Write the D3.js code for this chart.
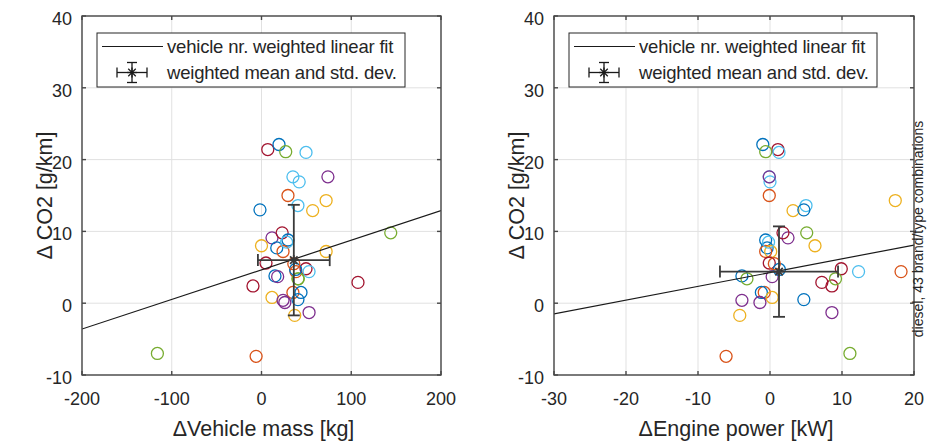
<!DOCTYPE html>
<html><head><meta charset="utf-8">
<script src="https://cdn.jsdelivr.net/npm/d3@7"></script>
<style>
html,body{margin:0;padding:0;background:#fff;}
svg{display:block;}
text{font-family:"Liberation Sans",Arial,sans-serif;fill:#262626;}
</style></head>
<body>
<svg id="chart" width="932" height="442"></svg>
<script>
// ---- data (43 diesel brand/type combinations) ----
const colorIdx = [6,0,4,5,5,5,3,1,2,5,2,0,3,6,0,2,0,1,2,6,1,6,5,0,3,4,6,6,1,0,0,2,3,3,2,3,1,4,4,4,0,5,1];
const co2      = [21.4,22.1,21.1,21.0,17.6,16.9,17.6,15.0,14.3,13.6,12.9,13.0,9.1,9.8,8.8,8.0,7.7,7.2,7.2,5.6,4.4,4.8,4.4,3.8,3.7,3.4,2.4,2.9,1.5,1.5,0.5,0.8,0.4,0.1,-1.7,-1.3,-7.4,9.8,-7.0,3.4,4.7,8.5,5.5];
const mass     = [7,19.5,27,49.6,35,42,74,29.5,72,40.6,57,-1.7,11.7,23,29.5,0,17,24,72,5,38.4,49.6,53,15,18,40.6,-9.5,107.5,35,44,40.6,11.7,24,26,37,53,-6,144,-116,41,38,28,36];
const power    = [1.1,-1.0,-0.6,1.25,-0.1,0.0,-0.1,-0.1,17.4,5.0,3.2,4.7,2.5,1.8,-0.6,6.25,-0.4,-0.6,0.1,-0.1,18.2,9.9,12.3,-3.9,0.3,-3.2,8.6,7.2,-0.8,-1.2,4.7,0.3,-3.9,-1.4,-4.2,8.6,-6.1,5.1,11.1,9.1,1.3,-0.2,0.6];
const palette  = ["#0072BD","#D95319","#EDB120","#7E2F8E","#77AC30","#4DBEEE","#A2142F"];

// fits and weighted means
const fitMass  = {x:[-200,200], y:[-3.6,12.9]};
const fitPower = {x:[-30,20],  y:[-1.5,8.1]};
const meanMass  = {x:36, y:6.0, sx:40, sy:7.7};
const meanPower = {x:1.25, y:4.4, sx:8.2, sy:6.3};

const yTicks = [-10,0,10,20,30,40];
const xTicksMass = [-200,-100,0,100,200];
const xTicksPower = [-30,-20,-10,0,10,20];

const legendLabels = ["vehicle nr. weighted linear fit","weighted mean and std. dev."];
const sideNote = "diesel, 43 brand/type combinations";

const svg = d3.select("#chart");
const yTop = 16, yBot = 375;

function star(g,cx,cy,r){
  g.append("line").attr("x1",cx-r).attr("x2",cx+r).attr("y1",cy).attr("y2",cy);
  g.append("line").attr("x1",cx).attr("x2",cx).attr("y1",cy-r).attr("y2",cy+r);
  const d=r*0.75;
  g.append("line").attr("x1",cx-d).attr("x2",cx+d).attr("y1",cy-d).attr("y2",cy+d);
  g.append("line").attr("x1",cx-d).attr("x2",cx+d).attr("y1",cy+d).attr("y2",cy-d);
}

function panel(opt){
  const g = svg.append("g");
  const x = d3.scaleLinear().domain(opt.xdom).range([opt.x0, opt.x1]);
  const y = d3.scaleLinear().domain([-10,40]).range([yBot, yTop]);
  // grid
  g.selectAll(".gx").data(opt.xticks).join("line")
    .attr("x1",d=>x(d)).attr("x2",d=>x(d)).attr("y1",yTop).attr("y2",yBot)
    .attr("stroke","#e1e1e1").attr("stroke-width",1);
  g.selectAll(".gy").data(yTicks).join("line")
    .attr("x1",opt.x0).attr("x2",opt.x1).attr("y1",d=>y(d)).attr("y2",d=>y(d))
    .attr("stroke","#e1e1e1").attr("stroke-width",1);
  // points
  const idx = d3.range(co2.length);
  g.selectAll(".pt").data(idx).join("circle")
    .attr("cx",i=>x(opt.xs[i])).attr("cy",i=>y(co2[i])).attr("r",6)
    .attr("fill","none").attr("stroke",i=>palette[colorIdx[i]]).attr("stroke-width",1.3);
  // fit line
  const clip = "clip"+opt.id;
  svg.append("clipPath").attr("id",clip).append("rect")
    .attr("x",opt.x0).attr("y",yTop).attr("width",opt.x1-opt.x0).attr("height",yBot-yTop);
  g.append("line").attr("clip-path","url(#"+clip+")")
    .attr("x1",x(opt.fit.x[0])).attr("y1",y(opt.fit.y[0]))
    .attr("x2",x(opt.fit.x[1])).attr("y2",y(opt.fit.y[1]))
    .attr("stroke","#1a1a1a").attr("stroke-width",1.2);
  // error bars
  const m = opt.mean, cap=6, eb="#3a3a3a";
  const e = g.append("g").attr("stroke",eb).attr("stroke-width",1.8).attr("fill","none");
  const cx=x(m.x), cy=y(m.y);
  e.append("line").attr("x1",x(m.x-m.sx)).attr("x2",x(m.x+m.sx)).attr("y1",cy).attr("y2",cy);
  e.append("line").attr("x1",cx).attr("x2",cx).attr("y1",y(m.y-m.sy)).attr("y2",y(m.y+m.sy));
  [m.x-m.sx,m.x+m.sx].forEach(v=>e.append("line").attr("x1",x(v)).attr("x2",x(v)).attr("y1",cy-cap).attr("y2",cy+cap));
  [m.y-m.sy,m.y+m.sy].forEach(v=>e.append("line").attr("y1",y(v)).attr("y2",y(v)).attr("x1",cx-cap).attr("x2",cx+cap));
  star(e,cx,cy,5);
  // axes with inward ticks
  const ax = g.append("g").attr("stroke","#484848").attr("stroke-width",1.4).attr("fill","none");
  ax.append("rect").attr("x",opt.x0).attr("y",yTop).attr("width",opt.x1-opt.x0).attr("height",yBot-yTop);
  opt.xticks.forEach(t=>{
    ax.append("line").attr("x1",x(t)).attr("x2",x(t)).attr("y1",yBot).attr("y2",yBot-4);
    ax.append("line").attr("x1",x(t)).attr("x2",x(t)).attr("y1",yTop).attr("y2",yTop+4);
  });
  yTicks.forEach(t=>{
    ax.append("line").attr("x1",opt.x0).attr("x2",opt.x0+4).attr("y1",y(t)).attr("y2",y(t));
    ax.append("line").attr("x1",opt.x1).attr("x2",opt.x1-4).attr("y1",y(t)).attr("y2",y(t));
  });
  g.selectAll(".xt").data(opt.xticks).join("text")
    .attr("x",d=>x(d)).attr("y",yBot+30).attr("text-anchor","middle")
    .attr("font-size",18).text(d=>d);
  g.selectAll(".yt").data(yTicks).join("text")
    .attr("x",opt.x0-10).attr("y",d=>y(d)+9).attr("text-anchor","end")
    .attr("font-size",18).text(d=>d);
  g.append("text").attr("x",(opt.x0+opt.x1)/2+2).attr("y",436).attr("text-anchor","middle")
    .attr("font-size",21.5).text(opt.xlabel);
  g.append("text").attr("transform",`translate(${opt.x0-30},${(yTop+yBot)/2}) rotate(-90)`)
    .attr("text-anchor","middle").attr("font-size",21.5).text("\u0394 CO2 [g/km]");
  // legend
  const lg = g.append("g");
  const lx = opt.x0+15, ly = 33;
  lg.append("rect").attr("x",lx).attr("y",ly).attr("width",308).attr("height",54)
    .attr("fill","#fff").attr("stroke","#262626").attr("stroke-width",1);
  lg.append("line").attr("x1",lx+5).attr("x2",lx+66).attr("y1",ly+13.5).attr("y2",ly+13.5)
    .attr("stroke","#1a1a1a").attr("stroke-width",1.2);
  const le = lg.append("g").attr("stroke","#1a1a1a").attr("stroke-width",1.3);
  const ex = lx+35, ey = ly+39.5;
  le.append("line").attr("x1",ex-15).attr("x2",ex+15).attr("y1",ey).attr("y2",ey);
  le.append("line").attr("x1",ex).attr("x2",ex).attr("y1",ey-10).attr("y2",ey+10);
  le.append("line").attr("x1",ex-15).attr("x2",ex-15).attr("y1",ey-5).attr("y2",ey+5);
  le.append("line").attr("x1",ex+15).attr("x2",ex+15).attr("y1",ey-5).attr("y2",ey+5);
  le.append("line").attr("x1",ex-5).attr("x2",ex+5).attr("y1",ey-10).attr("y2",ey-10);
  le.append("line").attr("x1",ex-5).attr("x2",ex+5).attr("y1",ey+10).attr("y2",ey+10);
  star(le,ex,ey,5);
  lg.selectAll(".lt").data(legendLabels).join("text")
    .attr("x",lx+70).attr("y",(d,i)=>ly+20+i*26).attr("font-size",18.5)
    .attr("letter-spacing","-0.2").text(d=>d);
}

panel({id:"a", x0:82, x1:441, xdom:[-200,200], xticks:xTicksMass, xs:mass,
       fit:fitMass, mean:meanMass, xlabel:"\u0394Vehicle mass [kg]"});
panel({id:"b", x0:554, x1:914, xdom:[-30,20], xticks:xTicksPower, xs:power,
       fit:fitPower, mean:meanPower, xlabel:"\u0394Engine power [kW]"});

svg.append("text").attr("transform","translate(923,229) rotate(-90)")
  .attr("text-anchor","middle").attr("font-size",14).attr("fill","#000").text(sideNote);
</script>
</body></html>
